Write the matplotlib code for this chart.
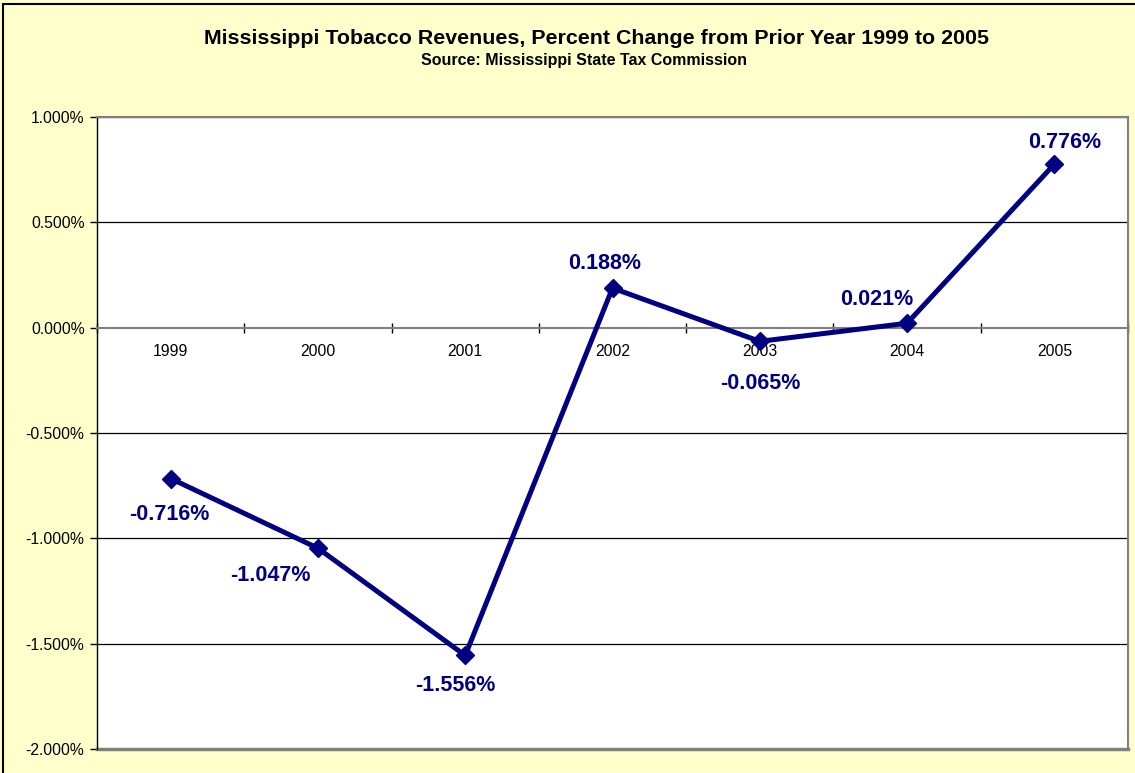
import matplotlib
matplotlib.use("Agg")
import matplotlib.pyplot as plt
from matplotlib.patches import Rectangle

# Annual percent change in Mississippi tobacco revenues
years = ["1999", "2000", "2001", "2002", "2003", "2004", "2005"]
pct_change = [-0.716, -1.047, -1.556, 0.188, -0.065, 0.021, 0.776]
y_ticks = [1.0, 0.5, 0.0, -0.5, -1.0, -1.5, -2.0]

# label offsets from each point, in pixels (x right, y up)
label_offsets = [(-1, -36), (-48, -27), (-10, -30), (-8, 25), (1, -42), (-30, 24), (10, 22)]

W, H, DPI = 1135, 773, 100
BG = "#FFFFCC"
NAVY = "#000080"
GREY = "#808080"
plt.rcParams["font.family"] = ["Liberation Sans", "DejaVu Sans"]

fig = plt.figure(figsize=(W / DPI, H / DPI), dpi=DPI, facecolor=BG)

# outer chart frame
fig.patches.append(Rectangle((3 / W, -0.05), 1.2, (H - 4) / H + 0.05,
                             transform=fig.transFigure, fill=False,
                             edgecolor="black", linewidth=1.5))

left, right, top, bottom = 97, 1128, 117, 749
ax = fig.add_axes([left / W, (H - bottom) / H, (right - left) / W, (bottom - top) / H])
ax.set_facecolor("white")

x = list(range(len(years)))
ax.set_xlim(-0.5, len(years) - 0.5)
ax.set_ylim(-2.0, 1.0)

# horizontal gridlines
for t in y_ticks:
    if t != 0:
        ax.axhline(t, color="black", linewidth=0.9, zorder=1)

ax.plot(x, pct_change, color=NAVY, linewidth=3.6, marker="D", markersize=9.5,
        markerfacecolor=NAVY, markeredgecolor=NAVY, zorder=3, clip_on=False)

for xi, v, (dx, dy) in zip(x, pct_change, label_offsets):
    ax.annotate(f"{v:.3f}%", (xi, v), xytext=(dx * 72 / DPI, dy * 72 / DPI),
                textcoords="offset points", ha="center", va="center",
                fontsize=15.5, fontweight="bold", color=NAVY, zorder=4)

# spines: category axis sits on the zero line
for s in ("top", "right"):
    ax.spines[s].set_color(GREY)
    ax.spines[s].set_linewidth(1.5)
ax.spines["left"].set_color("black")
ax.spines["left"].set_linewidth(1.0)
ax.spines["bottom"].set_position(("data", 0))
ax.spines["bottom"].set_color(GREY)
ax.spines["bottom"].set_linewidth(1.5)
ax.axhline(-2.0, color=GREY, linewidth=2.5, zorder=2, clip_on=False)

ax.set_yticks(y_ticks)
ax.set_yticklabels([f"{t:.3f}%" for t in y_ticks], fontsize=11.3)
ax.tick_params(axis="y", direction="out", length=5, width=1, pad=4)

ax.set_xticks([i - 0.5 for i in range(len(years) + 1)])
ax.set_xticklabels([])
ax.tick_params(axis="x", which="major", direction="inout", length=7, width=1, color="black")
ax.set_xticks(x, minor=True)
ax.set_xticklabels(years, minor=True, fontsize=11.3)
ax.tick_params(axis="x", which="minor", length=0, pad=12)

fig.text(596 / W, 1 - 38 / H, "Mississippi Tobacco Revenues, Percent Change from Prior Year 1999 to 2005",
         ha="center", va="center", fontsize=15.4, fontweight="bold")
fig.text(584 / W, 1 - 60 / H, "Source: Mississippi State Tax Commission",
         ha="center", va="center", fontsize=11.5, fontweight="bold")

fig.savefig("out.png", dpi=DPI, facecolor=BG)
